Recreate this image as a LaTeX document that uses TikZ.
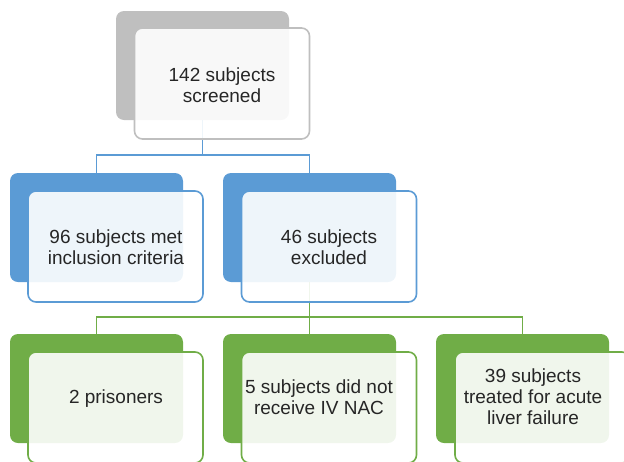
\documentclass[tikz,border=0pt]{standalone}
\usepackage{fontspec}
\setmainfont{Liberation Sans}
\definecolor{cgray}{RGB}{191,191,191}
\definecolor{cblue}{RGB}{91,155,213}
\definecolor{cgreen}{RGB}{112,173,71}
\definecolor{ctext}{RGB}{38,38,38}
\begin{document}
\begin{tikzpicture}[x=1pt,y=-1pt,
  backbox/.style={rectangle, rounded corners=8pt, minimum width=173pt, minimum height=109pt, inner sep=0pt},
  frontbox/.style={rectangle, rounded corners=8pt, minimum width=175pt, minimum height=111pt, inner sep=0pt, fill=white, fill opacity=0.9, line width=1.6pt},
  label/.style={align=center, text=ctext, font=\fontsize{19}{21}\selectfont},
  conn/.style={line width=1.8pt}]
\useasboundingbox (0,0) rectangle (624,461);
\clip (0,0) rectangle (624,461);
% back boxes
\node[backbox, fill=cgray] (topb) at (202.5,65.5) {};
\node[backbox, fill=cblue] (b1b) at (96.5,227.5) {};
\node[backbox, fill=cblue] (b2b) at (309.5,227.5) {};
\node[backbox, fill=cgreen] (g1b) at (96.5,388.5) {};
\node[backbox, fill=cgreen] (g2b) at (309.5,388.5) {};
\node[backbox, fill=cgreen] (g3b) at (522.5,388.5) {};
% connectors
\draw[conn, cblue] (topb.south) -- ++(0,35) coordinate (tj);
\draw[conn, cblue] (tj) -| (b1b.north);
\draw[conn, cblue] (tj) -| (b2b.north);
\draw[conn, cgreen] (b2b.south) -- ++(0,35) coordinate (bj);
\draw[conn, cgreen] (bj) -| (g1b.north);
\draw[conn, cgreen] (bj) -- (g2b.north);
\draw[conn, cgreen] (bj) -| (g3b.north);
% front boxes
\node[frontbox, draw=cgray] (topf) at (222,83.5) {};
\node[frontbox, draw=cblue] (b1f) at (115.5,246.5) {};
\node[frontbox, draw=cblue] (b2f) at (329,246.5) {};
\node[frontbox, draw=cgreen] (g1f) at (115.5,407.5) {};
\node[frontbox, draw=cgreen] (g2f) at (329,407.5) {};
\node[frontbox, draw=cgreen] (g3f) at (542.5,407.5) {};
% texts
\node[label] (topt) at (222,85) {142 subjects\\screened};
\node[label] (b1t) at (116,247) {96 subjects met\\inclusion criteria};
\node[label] (b2t) at (329,247) {46 subjects\\excluded};
\node[label] (g1t) at (116,399) {2 prisoners};
\node[label] (g2t) at (319,397) {5 subjects did not\\receive IV NAC};
\node[label] (g3t) at (533,397) {39 subjects\\treated for acute\\liver failure};
\end{tikzpicture}
\end{document}
